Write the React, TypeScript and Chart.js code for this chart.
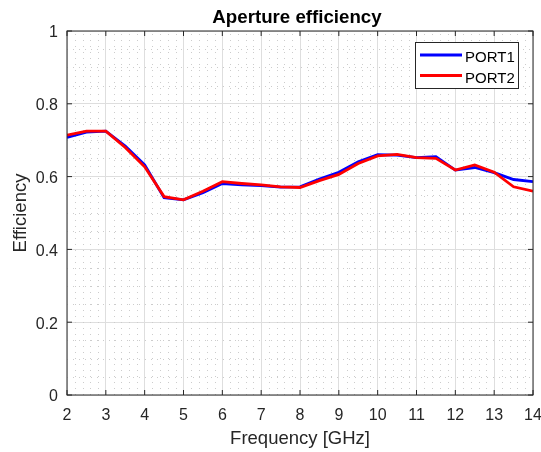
import { useEffect, useRef } from "react";
import { Chart, registerables } from "chart.js";

Chart.register(...registerables);

const frequencies = [2, 2.5, 3, 3.5, 4, 4.5, 5, 5.5, 6, 6.5, 7, 7.5, 8, 8.5, 9, 9.5, 10, 10.5, 11, 11.5, 12, 12.5, 13, 13.5, 14];
const port1 = [0.708, 0.722, 0.725, 0.684, 0.632, 0.542, 0.536, 0.556, 0.581, 0.577, 0.575, 0.571, 0.572, 0.593, 0.612, 0.641, 0.66, 0.659, 0.652, 0.655, 0.618, 0.625, 0.611, 0.592, 0.586];
const port2 = [0.714, 0.725, 0.725, 0.68, 0.627, 0.545, 0.536, 0.56, 0.586, 0.581, 0.577, 0.572, 0.57, 0.589, 0.606, 0.636, 0.657, 0.661, 0.652, 0.65, 0.618, 0.632, 0.612, 0.572, 0.56];
const xTicks = [2, 3, 4, 5, 6, 7, 8, 9, 10, 11, 12, 13, 14];
const xTickLabels = ["2", "3", "4", "5", "6", "7", "8", "9", "10", "11", "12", "13", "14"];
const yTicks = [0, 0.2, 0.4, 0.6, 0.8, 1];
const yTickLabels = ["0", "0.2", "0.4", "0.6", "0.8", "1"];
const seriesLabels = ["PORT1", "PORT2"];
const seriesColors = ["#0000ff", "#ff0000"];
const titleText = "Aperture efficiency";
const xTitle = "Frequency [GHz]";
const yTitle = "Efficiency";

const FONT = '"Liberation Sans", Arial, Helvetica, sans-serif';
const X_MINOR = 0.2;
const Y_MINOR = 0.05;

const matlabPlugin = {
  id: "matlabStyle",
  beforeDatasetsDraw(chart: any) {
    const { ctx, chartArea: a, scales } = chart;
    const x = scales.x;
    const y = scales.y;
    ctx.save();
    ctx.strokeStyle = "#cccccc";
    ctx.lineWidth = 1;
    ctx.setLineDash([1, 5]);
    const xMin = x.min, xMax = x.max;
    const nx = Math.round((xMax - xMin) / X_MINOR);
    for (let i = 1; i < nx; i++) {
      if (i % 5 === 0) continue;
      const v = xMin + i * X_MINOR;
      const px = Math.round(x.getPixelForValue(v)) + 0.5;
      ctx.beginPath();
      ctx.moveTo(px, a.bottom);
      ctx.lineTo(px, a.top);
      ctx.stroke();
    }
    const yMin = y.min, yMax = y.max;
    const ny = Math.round((yMax - yMin) / Y_MINOR);
    for (let i = 1; i < ny; i++) {
      if (i % 4 === 0) continue;
      const v = yMin + i * Y_MINOR;
      const py = Math.round(y.getPixelForValue(v)) + 0.5;
      ctx.beginPath();
      ctx.moveTo(a.left, py);
      ctx.lineTo(a.right, py);
      ctx.stroke();
    }
    ctx.restore();
  },
  afterDatasetsDraw(chart: any) {
    const { ctx, chartArea: a, scales } = chart;
    const x = scales.x;
    const y = scales.y;
    ctx.save();
    ctx.strokeStyle = "#262626";
    ctx.lineWidth = 1;
    ctx.setLineDash([]);
    ctx.strokeRect(a.left, a.top, a.right - a.left, a.bottom - a.top);
    const tl = 5;
    ctx.beginPath();
    xTicks.forEach((v) => {
      const px = x.getPixelForValue(v);
      ctx.moveTo(px, a.bottom);
      ctx.lineTo(px, a.bottom - tl);
      ctx.moveTo(px, a.top);
      ctx.lineTo(px, a.top + tl);
    });
    yTicks.forEach((v) => {
      const py = y.getPixelForValue(v);
      ctx.moveTo(a.left, py);
      ctx.lineTo(a.left + tl, py);
      ctx.moveTo(a.right, py);
      ctx.lineTo(a.right - tl, py);
    });
    ctx.stroke();

    // legend
    const bw = 103, bh = 46;
    const bx = Math.round(a.right - 15 - bw);
    const by = Math.round(a.top + 11);
    ctx.fillStyle = "#ffffff";
    ctx.fillRect(bx, by, bw, bh);
    ctx.strokeStyle = "#262626";
    ctx.strokeRect(bx + 0.5, by + 0.5, bw, bh);
    ctx.font = `15px ${FONT}`;
    ctx.textAlign = "left";
    ctx.textBaseline = "alphabetic";
    const rows = [13, 33.5];
    chart.data.datasets.forEach((ds: any, i: number) => {
      const ry = by + rows[i];
      ctx.strokeStyle = ds.borderColor;
      ctx.lineWidth = 2.8;
      ctx.beginPath();
      ctx.moveTo(bx + 5, ry);
      ctx.lineTo(bx + 47, ry);
      ctx.stroke();
      ctx.fillStyle = "#000000";
      ctx.fillText(ds.label, bx + 50, ry + 7);
    });

    ctx.font = `bold 18.7px ${FONT}`;
    ctx.fillStyle = "#000000";
    ctx.textAlign = "center";
    ctx.textBaseline = "alphabetic";
    ctx.fillText(titleText, (a.left + a.right) / 2 - 3, 23);
    ctx.restore();
  },
};

export default function App() {
  const ref = useRef<HTMLCanvasElement | null>(null);

  useEffect(() => {
    document.body.style.margin = "0";
    const canvas = ref.current;
    if (!canvas) return;
    const chart = new Chart(canvas, {
      type: "line",
      data: {
        labels: frequencies,
        datasets: seriesLabels.map((label, i) => ({
          label,
          data: frequencies.map((f, j) => ({ x: f, y: (i === 0 ? port1 : port2)[j] })),
          borderColor: seriesColors[i],
          backgroundColor: seriesColors[i],
          borderWidth: 2.8,
          pointRadius: 0,
          tension: 0,
          fill: false,
          order: i === 0 ? 1 : 0,
        })),
      },
      options: {
        animation: false,
        responsive: false,
        devicePixelRatio: 1,
        layout: { padding: { top: 31, right: 8, left: 0, bottom: 0 } },
        plugins: {
          legend: { display: false },
          title: { display: false },
          tooltip: { enabled: false },
        },
        scales: {
          x: {
            type: "linear",
            min: 2,
            max: 14,
            afterBuildTicks: (s: any) => {
              s.ticks = xTicks.map((v) => ({ value: v }));
            },
            afterFit: (s: any) => {
              s.height = 57;
              s.paddingLeft = 0;
              s.paddingRight = 0;
            },
            ticks: {
              color: "#262626",
              font: { family: FONT, size: 16 },
              padding: 11,
              maxRotation: 0,
              autoSkip: false,
              callback: (_v: any, i: number) => xTickLabels[i],
            },
            grid: { color: "#dedede", drawTicks: false, lineWidth: 1 },
            border: { display: false },
            title: {
              display: true,
              text: xTitle,
              color: "#262626",
              font: { family: FONT, size: 18.5 },
              padding: { top: 0, bottom: 2 },
            },
          },
          y: {
            type: "linear",
            min: 0,
            max: 1,
            afterBuildTicks: (s: any) => {
              s.ticks = yTicks.map((v) => ({ value: v }));
            },
            afterFit: (s: any) => {
              s.width = 67;
              s.paddingTop = 0;
              s.paddingBottom = 0;
            },
            ticks: {
              color: "#262626",
              font: { family: FONT, size: 16 },
              padding: 9,
              labelOffset: 2,
              autoSkip: false,
              callback: (_v: any, i: number) => yTickLabels[i],
            },
            grid: { color: "#dedede", drawTicks: false, lineWidth: 1 },
            border: { display: false },
            title: {
              display: true,
              text: yTitle,
              color: "#262626",
              font: { family: FONT, size: 18.5 },
              padding: { top: 10, bottom: 0 },
            },
          },
        },
      },
      plugins: [matlabPlugin],
    } as any);
    return () => chart.destroy();
  }, []);

  return (
    <div style={{ position: "absolute", left: 0, top: 0, width: 541, height: 452 }}>
      <canvas ref={ref} width={541} height={452} style={{ width: 541, height: 452 }} />
    </div>
  );
}
